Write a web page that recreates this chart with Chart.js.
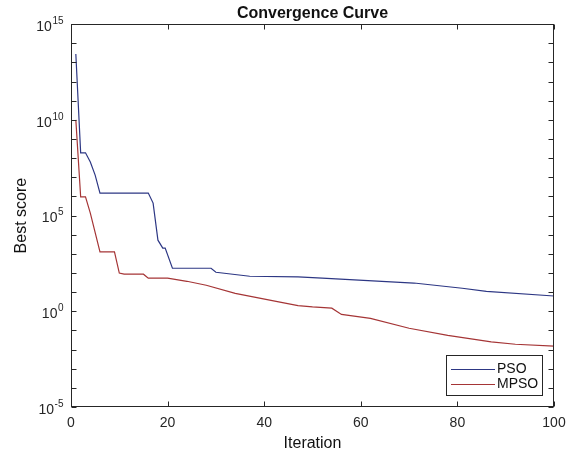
<!DOCTYPE html>
<html>
<head>
<meta charset="utf-8">
<script src="https://cdn.jsdelivr.net/npm/chart.js@4.4.0/dist/chart.umd.min.js"></script>
<style>
  html, body { margin: 0; padding: 0; background: #fff; }
  #wrap { width: 566px; height: 459px; }
</style>
</head>
<body>
<div id="wrap"><canvas id="chart" width="566" height="459"></canvas></div>
<script>
// values (iteration, best score)
const psoIter = [1, 2, 3, 4, 5, 6, 16, 17, 18, 19, 19.5, 21, 29, 30, 37, 47, 52, 71, 81, 86, 100];
const psoScore = [2.8e13, 1.9e8, 1.9e8, 6.3e7, 1.3e7, 1.5e6, 1.5e6, 4.5e5, 5.2e3, 2.0e3, 2.0e3, 178,
  178, 110, 68, 63, 54, 30, 16, 11, 6.3];

const mpsoIter = [1, 2, 3, 4, 6, 9, 10, 11, 15, 16, 20, 24, 28, 34, 43, 47, 50, 54, 56, 62, 70, 78, 87, 92, 100];
const mpsoScore = [1e10, 9.5e5, 9.5e5, 1.35e5, 1260, 1260, 100, 87, 87, 54, 54, 37, 23, 8.7, 3.1, 2.0,
  1.7, 1.45, 0.69, 0.43, 0.13, 0.055, 0.025, 0.019, 0.015];

const xTicks = [0, 20, 40, 60, 80, 100];
const yTickExp = [-5, -4, -3, -2, -1, 0, 1, 2, 3, 4, 5, 6, 7, 8, 9, 10, 11, 12, 13, 14, 15];
const yLabelExp = [-5, 0, 5, 10, 15];

const FONT = '"Liberation Sans", Arial, Helvetica, sans-serif';

// box, inward ticks, y labels with exponents and the legend
const framePlugin = {
  id: 'frame',
  afterDraw(chart) {
    const { ctx, chartArea: a, scales } = chart;
    const x = scales.x, y = scales.y;
    ctx.save();
    ctx.strokeStyle = '#262626';
    ctx.lineWidth = 1;
    const L = Math.round(a.left) + 0.5, R = Math.round(a.right) - 0.5;
    const T = Math.round(a.top) + 0.5, B = Math.round(a.bottom) - 0.5;
    ctx.strokeRect(L, T, R - L, B - T);

    ctx.beginPath();
    xTicks.forEach(v => {
      const px = Math.round(x.getPixelForValue(v)) + 0.5;
      ctx.moveTo(px, B); ctx.lineTo(px, B - 5);
      ctx.moveTo(px, T); ctx.lineTo(px, T + 5);
    });
    yTickExp.forEach(e => {
      const py = Math.round(y.getPixelForValue(Math.pow(10, e))) + 0.5;
      ctx.moveTo(L, py); ctx.lineTo(L + 5, py);
      ctx.moveTo(R, py); ctx.lineTo(R - 5, py);
    });
    ctx.stroke();

    // y tick labels: 10 with raised exponent
    ctx.fillStyle = '#262626';
    ctx.textBaseline = 'middle';
    yLabelExp.forEach(e => {
      const py = y.getPixelForValue(Math.pow(10, e));
      const exp = String(e);
      ctx.font = '10px ' + FONT;
      const we = ctx.measureText(exp).width;
      ctx.font = '14px ' + FONT;
      const wb = ctx.measureText('10').width;
      const right = a.left - 8;
      ctx.textAlign = 'left';
      ctx.fillText('10', right - we - wb, py + 3);
      ctx.font = '10px ' + FONT;
      ctx.fillText(exp, right - we + 0.5, py - 3);
    });

    // legend
    const lx = 446, ly = 355, lw = 96, lh = 40;
    ctx.fillStyle = '#fff';
    ctx.fillRect(lx, ly, lw, lh);
    ctx.strokeStyle = '#262626';
    ctx.strokeRect(lx + 0.5, ly + 0.5, lw, lh);
    chart.data.datasets.forEach((ds, i) => {
      const yy = ly + 14 + i * 15 + 0.5;
      ctx.strokeStyle = ds.borderColor;
      ctx.beginPath();
      ctx.moveTo(lx + 5, yy); ctx.lineTo(lx + 49, yy);
      ctx.stroke();
      ctx.fillStyle = '#111';
      ctx.font = '14px ' + FONT;
      ctx.textAlign = 'left';
      ctx.fillText(ds.label, lx + 51, yy);
    });
    ctx.restore();
  }
};

new Chart(document.getElementById('chart'), {
  type: 'line',
  data: {
    datasets: [
      {
        label: 'PSO',
        data: psoIter.map((v, i) => ({ x: v, y: psoScore[i] })),
        borderColor: '#2d3784',
        borderWidth: 1.2,
        pointRadius: 0,
        tension: 0,
        fill: false
      },
      {
        label: 'MPSO',
        data: mpsoIter.map((v, i) => ({ x: v, y: mpsoScore[i] })),
        borderColor: '#a53536',
        borderWidth: 1.2,
        pointRadius: 0,
        tension: 0,
        fill: false
      }
    ]
  },
  options: {
    responsive: false,
    animation: false,
    layout: { padding: { left: 0, right: 12, top: 0, bottom: 0 } },
    plugins: {
      legend: { display: false },
      tooltip: { enabled: false },
      title: {
        display: true,
        text: 'Convergence Curve',
        fullSize: false,
        color: '#111',
        font: { family: FONT, size: 16, weight: 'bold' },
        padding: { top: 4, bottom: 1 }
      }
    },
    scales: {
      x: {
        type: 'linear',
        min: 0,
        max: 100,
        afterBuildTicks: s => { s.ticks = xTicks.map(v => ({ value: v })); },
        afterFit: s => { s.height = 52; s.paddingLeft = 0; s.paddingRight = 0; },
        grid: { display: false, drawTicks: false },
        border: { display: false },
        ticks: { color: '#262626', padding: 8, maxRotation: 0, font: { family: FONT, size: 14 } },
        title: {
          display: true,
          text: 'Iteration',
          color: '#111',
          font: { family: FONT, size: 16 },
          padding: { top: 0, bottom: 6 }
        }
      },
      y: {
        type: 'logarithmic',
        min: 1e-5,
        max: 1e15,
        afterBuildTicks: s => { s.ticks = yTickExp.map(e => ({ value: Math.pow(10, e) })); },
        afterFit: s => { s.width = 71; },
        grid: { display: false, drawTicks: false },
        border: { display: false },
        ticks: { display: false },
        title: {
          display: true,
          text: 'Best score',
          color: '#111',
          font: { family: FONT, size: 16 },
          padding: { top: 12, bottom: 0 }
        }
      }
    }
  },
  plugins: [framePlugin]
});
</script>
</body>
</html>
